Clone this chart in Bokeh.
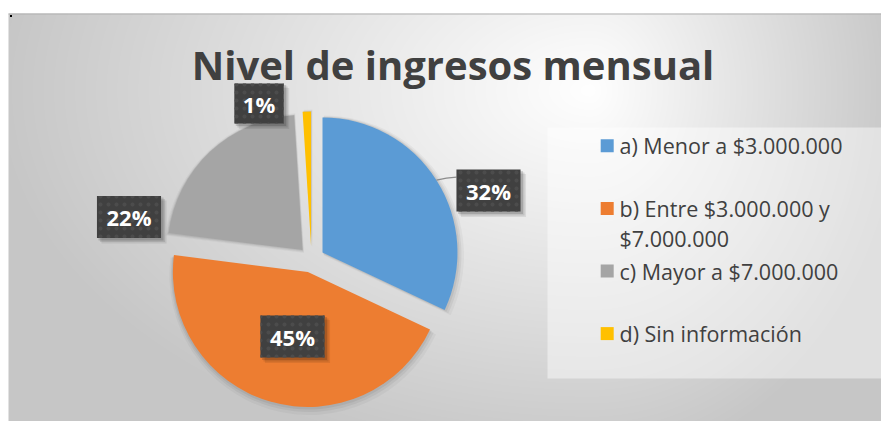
import numpy as np
from bokeh.plotting import figure
from bokeh.models import Range1d, ColumnDataSource
from bokeh.core.properties import value
from bokeh.embed import file_html
from bokeh.resources import INLINE

# ---------------- data ----------------
title = "Nivel de ingresos mensual"
categories = ["a) Menor a $3.000.000",
              "b) Entre $3.000.000 y\n$7.000.000",
              "c) Mayor a $7.000.000",
              "d) Sin información"]
shares = [32, 45, 22, 1]
pct_labels = ["32%", "45%", "22%", "1%"]
colors = ["#5b9bd5", "#ed7d31", "#a5a5a5", "#ffc000"]

# ---------------- layout / style ----------------
W, H = 881, 421          # figure size (pixels == data units)
GX0, GTOP = 8, 13        # chart area starts here (screen px)
GW, GH = W - GX0, H - GTOP
FONT = value("Open Sans")
TXT = "#404040"

p = figure(width=W, height=H, x_range=Range1d(0, W), y_range=Range1d(0, H),
           output_backend="svg", toolbar_location=None,
           x_axis_location=None, y_axis_location=None, min_border=0)
p.grid.visible = False
p.outline_line_color = None
p.background_fill_color = "white"
p.border_fill_color = "white"

# background radial gradient (light centre, grey edges)
xs = GX0 + np.arange(GW) + 0.5
ys = np.arange(GH) + 0.5
X, Y = np.meshgrid(xs, ys)
gcx, gcy = 590, 331
dx = X - gcx
dy = Y - gcy
sx = np.where(dx < 0, 600.0, 320.0)
sy = 380.0
t = np.clip(np.sqrt((dx / sx) ** 2 + (dy / sy) ** 2), 0, 1)
L = (255 - t * (255 - 198)).astype(np.uint8)
img = np.empty((GH, GW), dtype=np.uint32)
view = img.view(dtype=np.uint8).reshape((GH, GW, 4))
view[..., 0] = L
view[..., 1] = L
view[..., 2] = L
view[..., 3] = 255
p.image_rgba(image=[img], x=GX0, y=0, dw=GW, dh=GH)

# top border line and little mark
p.segment(x0=[GX0], y0=[GH - 0.5], x1=[W], y1=[GH - 0.5], line_color="#b0b0b0", line_width=1)
p.rect(x=[GX0 + 2.5], y=[GH - 2.5], width=2, height=2, fill_color="black", line_color=None)

# title
p.text(x=[452.5], y=[H - 64], text=[title], text_align="center", text_baseline="middle",
       text_font=FONT, text_font_style="bold", text_font_size="40px", text_color=TXT)

# ---------------- pie ----------------
cx, cy, r, explode = 311, 162, 135, 13
fr = np.array(shares, dtype=float) / sum(shares)
cum = np.concatenate([[0], np.cumsum(fr)[:-1]])
start = np.pi / 2 - 2 * np.pi * cum
end = np.pi / 2 - 2 * np.pi * (cum + fr)
mid = (start + end) / 2
wx = cx + explode * np.cos(mid)
wy = cy + explode * np.sin(mid)
src = ColumnDataSource(dict(x=wx, y=wy, start=start, end=end, color=colors))

for grow, off, alpha in [(5, 3, 0.035), (3, 2, 0.05), (1.5, 1, 0.06)]:
    p.wedge(x=wx + off * 0.5, y=wy - off, radius=r + grow, start_angle=start, end_angle=end,
            direction="clock", fill_color="black", fill_alpha=alpha, line_color=None)
p.wedge(x="x", y="y", radius=r, start_angle="start", end_angle="end", direction="clock",
        fill_color="color", line_color=None, source=src)

# ---------------- data labels ----------------
label_dx = [177, -19, -182.5, -52.5]
label_dy = [69, -77, 42.5, 156]
lx = cx + np.array(label_dx, dtype=float)
ly = cy + np.array(label_dy, dtype=float)
bw = np.array([20 + 14.7 * len(s) for s in pct_labels])
bh = np.array([36 + 2 * len(s) for s in pct_labels], dtype=float)

# leader line for first label
sx0 = wx[0] + r * np.cos(mid[0])
sy0 = wy[0] + r * np.sin(mid[0])
p.line(x=[sx0, sx0 + 10, lx[0] - bw[0] / 2], y=[sy0, sy0 + 2, sy0 + 3],
       line_color="#8c8c8c", line_width=1.3)

for off, alpha in [(5, 0.08), (3.5, 0.10), (2, 0.14)]:
    p.rect(x=lx + off, y=ly - off, width=bw + 1, height=bh + 1,
           fill_color="black", fill_alpha=alpha, line_color=None)
p.rect(x=lx, y=ly, width=bw, height=bh, fill_color="#404040", line_color=None,
       hatch_pattern="dot", hatch_color="#4c4c4c", hatch_scale=8, hatch_weight=1.5)
p.text(x=lx, y=ly, text=pct_labels, text_align="center", text_baseline="middle",
       text_font=FONT, text_font_style="bold", text_font_size="22px", text_color="white")

# ---------------- legend ----------------
p.rect(x=[714], y=[168.5], width=334, height=251, fill_color="white", fill_alpha=0.45,
       line_color=None)
sq_x = 606.7
sq_y = np.array([H - (145.3 + i * 62.6) for i in range(len(categories))])
p.rect(x=sq_x, y=sq_y, width=13, height=13, fill_color=colors, line_color=None)
tx, ty, tt = [], [], []
for yy, lab in zip(sq_y, categories):
    for k, line in enumerate(lab.split("\n")):
        tx.append(619)
        ty.append(yy - 30 * k)
        tt.append(line)
p.text(x=tx, y=ty, text=tt, text_align="left", text_baseline="middle",
       text_font=FONT, text_font_size="21.5px", text_color=TXT)

open("out.html", "w").write(file_html(p, INLINE))
